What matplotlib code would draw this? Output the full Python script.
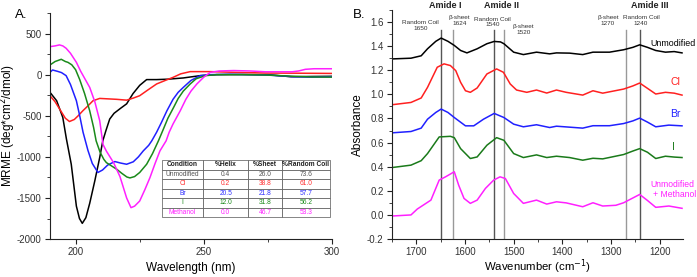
import matplotlib
matplotlib.use('Agg')
import matplotlib.pyplot as plt
from matplotlib.ticker import MultipleLocator

plt.rcParams['font.family'] = ['Liberation Sans', 'DejaVu Sans']
plt.rcParams['axes.unicode_minus'] = False

# ---------------- Panel A: CD spectra ----------------
wl_unmod = [190, 192.6, 195, 196.4, 198.3, 200.3, 201.5, 202.6, 204, 205.5, 207.5, 209.4, 210.6, 211.8,
            213.3, 215, 217.5, 219.9, 222.4, 225, 227.7, 231.6, 236, 242, 248.6, 255, 265, 275, 284, 292, 300]
mr_unmod = [-215, -317, -520, -780, -1090, -1600, -1750, -1809, -1740, -1565, -1290, -1008, -805, -683,
            -540, -470, -410, -355, -230, -130, -60, -60, -55, -40, -12, 0, 2, 0, -25, -22, -20]

wl_cl = [190, 192, 194, 196, 197.6, 199.5, 201, 202.8, 204.8, 206.8, 209.4, 213, 216, 219.9, 222.5, 225,
         228, 231.6, 235, 238, 241, 244.7, 252.5, 260, 274, 285, 300]
mr_cl = [-256, -330, -430, -530, -570, -545, -500, -440, -380, -317, -289, -295, -300, -310, -285, -256,
         -190, -113, -70, -33, 10, 37, 37, 30, 20, 18, 15]

wl_br = [190, 191, 193, 194.5, 196.3, 198, 200.3, 201.6, 202.9, 204.8, 206.5, 208.7, 210.5, 212.5, 215.3,
         217.5, 219.9, 222.5, 224.5, 226.4, 228.5, 229.7, 231.6, 233.5, 235.6, 238, 240, 242, 245, 248.6,
         252, 260, 275, 285, 292, 300]
mr_br = [28, 57, 40, 25, -12, -120, -317, -500, -700, -920, -1080, -1190, -1160, -1100, -1057,
         -1075, -1090, -1060, -1000, -927, -860, -805, -700, -580, -440, -300, -215, -155, -70, -12,
         0, 5, -5, -25, -30, -25]

wl_i = [190, 192, 194.4, 196, 197, 198.5, 200, 201.6, 203.5, 205.5, 207, 208, 209.5, 211, 212, 214, 216,
        218, 220, 221.2, 223, 225, 227.7, 230, 232.3, 234, 236, 238.2, 240, 242, 244.7, 247, 250.6, 255,
        265, 275, 285, 292, 300]
mr_i = [118, 160, 187, 160, 150, 120, 60, -60, -230, -440, -640, -805, -940, -1030, -1070, -1110, -1150,
        -1200, -1245, -1256, -1240, -1190, -1090, -960, -805, -680, -530, -400, -290, -200, -113, -50, -12, 0,
        0, -5, -20, -28, -30]

wl_meoh = [190, 192, 193.7, 195, 196.3, 198, 200.3, 202, 203.8, 205.5, 207.5, 209.4, 210.7, 212, 214.8,
           217.3, 219.9, 221.6, 223, 225, 227, 229, 231, 232.9, 235.3, 236.5, 238, 240.8, 243, 245, 247.3,
           250, 252.5, 256, 261.7, 268, 274, 280, 284.5, 287, 289.6, 293, 300]
mr_meoh = [341, 350, 362, 350, 321, 260, 150, 40, -60, -155, -330, -560, -850, -930, -1070,
           -1240, -1500, -1618, -1600, -1537, -1400, -1252, -1080, -927, -805, -700, -600, -440, -300, -200, -113,
           -30, 28, 45, 50, 45, 35, 35, 35, 45, 65, 72, 72]

table_cols = ['Condition', '%Helix', '%Sheet', '%Random Coil']
table_rows = [['Unmodified', '0.4', '26.0', '73.6'],
              ['Cl', '0.2', '38.8', '61.0'],
              ['Br', '20.5', '21.8', '57.7'],
              ['I', '12.0', '31.8', '56.2'],
              ['Methanol', '0.0', '46.7', '53.3']]
row_colors = ['#555555', '#ff3030', '#3030ff', '#1a8a1a', '#ff20ff']

# ---------------- Panel B: FTIR spectra ----------------
wn_unmod = [1750, 1711, 1690, 1677, 1660, 1649, 1635, 1622, 1609, 1596, 1575, 1555, 1540, 1527, 1520, 1500,
            1480, 1453, 1426, 1412, 1385, 1358, 1337, 1303, 1274, 1255, 1241, 1225, 1208, 1188, 1170, 1154]
ab_unmod = [1.294, 1.30, 1.32, 1.378, 1.44, 1.467, 1.44, 1.406, 1.364, 1.344, 1.378, 1.42, 1.439, 1.435, 1.42,
            1.35, 1.33, 1.35, 1.336, 1.344, 1.342, 1.33, 1.35, 1.35, 1.37, 1.39, 1.411, 1.39, 1.364, 1.35, 1.355,
            1.344]

wn_cl = [1750, 1711, 1690, 1677, 1657, 1643, 1630, 1619, 1609, 1599, 1589, 1575, 1555, 1535, 1521, 1507, 1494,
         1473, 1453, 1432, 1412, 1392, 1358, 1337, 1317, 1274, 1255, 1241, 1225, 1208, 1188, 1170, 1154]
ab_cl = [0.914, 0.933, 0.97, 1.058, 1.225, 1.253, 1.239, 1.197, 1.1, 1.03, 1.017, 1.053, 1.169, 1.211, 1.183,
         1.086, 1.036, 1.017, 1.036, 1.011, 1.036, 1.017, 0.994, 1.03, 1.01, 1.044, 1.07, 1.094, 1.05, 1.003,
         1.017, 1.01, 0.994]

wn_br = [1750, 1711, 1690, 1677, 1660, 1649, 1635, 1622, 1599, 1582, 1562, 1540, 1520, 1500, 1480, 1453, 1426,
         1412, 1358, 1337, 1303, 1274, 1255, 1241, 1225, 1208, 1181, 1154]
ab_br = [0.681, 0.692, 0.72, 0.794, 0.85, 0.878, 0.85, 0.808, 0.739, 0.739, 0.794, 0.842, 0.808, 0.753, 0.731,
         0.748, 0.725, 0.736, 0.72, 0.74, 0.74, 0.758, 0.78, 0.803, 0.77, 0.731, 0.745, 0.739]

wn_i = [1750, 1711, 1690, 1677, 1653, 1630, 1622, 1609, 1589, 1575, 1555, 1535, 1520, 1500, 1480, 1453, 1432,
        1412, 1385, 1358, 1337, 1317, 1274, 1255, 1241, 1225, 1208, 1188, 1170, 1154]
ab_i = [0.393, 0.413, 0.45, 0.509, 0.647, 0.652, 0.641, 0.55, 0.468, 0.481, 0.578, 0.641, 0.619, 0.509, 0.476,
        0.498, 0.476, 0.487, 0.476, 0.454, 0.47, 0.465, 0.501, 0.53, 0.55, 0.52, 0.468, 0.487, 0.48, 0.476]

wn_meoh = [1750, 1711, 1698, 1670, 1653, 1640, 1622, 1613, 1602, 1589, 1575, 1558, 1541, 1528, 1517, 1500,
           1480, 1453, 1432, 1412, 1392, 1358, 1337, 1317, 1290, 1274, 1241, 1225, 1208, 1181, 1154]
ab_meoh = [-0.009, 0.0, 0.049, 0.123, 0.289, 0.316, 0.358, 0.247, 0.137, 0.096, 0.123, 0.22, 0.289, 0.316,
           0.302, 0.178, 0.096, 0.123, 0.09, 0.109, 0.10, 0.068, 0.101, 0.074, 0.08, 0.101, 0.17, 0.12, 0.063,
           0.074, 0.055]

band_pos = [1650, 1624, 1540, 1520, 1270, 1240]
band_names = ['Random Coil\n1650', '\u03b2-sheet\n1624', 'Random Coil\n1540', '\u03b2-sheet\n1520',
              '\u03b2-sheet\n1270', 'Random Coil\n1240']

fig = plt.figure(figsize=(6.97, 2.77), dpi=100)
axA = fig.add_axes([0.0717, 0.137, 0.4046, 0.816])
axB = fig.add_axes([0.5624, 0.137, 0.4175, 0.827])

tick_col = '#333333'
for ax in (axA, axB):
    for s in ('top', 'right'):
        ax.spines[s].set_visible(False)
    for s in ('left', 'bottom'):
        ax.spines[s].set_color('#222222')
        ax.spines[s].set_linewidth(0.8)
    ax.tick_params(which='major', direction='out', length=3.5, width=0.8, labelsize=7,
                   colors='#222222', labelcolor=tick_col, pad=2.5)
    ax.tick_params(which='minor', direction='out', length=2, width=0.6, colors='#222222')

# Panel A
axA.plot(wl_unmod, mr_unmod, color='black', lw=1.1)
axA.plot(wl_cl, mr_cl, color='#ff2020', lw=1.1)
axA.plot(wl_br, mr_br, color='#2020ff', lw=1.1)
axA.plot(wl_i, mr_i, color='#1a8a1a', lw=1.1)
axA.plot(wl_meoh, mr_meoh, color='#ff20ff', lw=1.1)
axA.set_xlim(190, 300)
axA.set_ylim(-2000, 750)
axA.xaxis.set_major_locator(MultipleLocator(50))
axA.xaxis.set_minor_locator(MultipleLocator(25))
axA.yaxis.set_major_locator(MultipleLocator(500))
axA.yaxis.set_minor_locator(MultipleLocator(250))
axA.set_xlabel('Wavelength (nm)', fontsize=8.5)
axA.xaxis.set_label_coords(0.5, -0.1)
axA.set_ylabel('MRME (deg*cm$^2$/dmol)', fontsize=8.5)
axA.yaxis.set_label_coords(-0.112, 0.5)
fig.text(0.021, 0.935, 'A.', fontsize=9.5)

tbl = axA.table(cellText=table_rows, colLabels=table_cols, cellLoc='center',
                colWidths=[0.247, 0.267, 0.198, 0.287], bbox=[0.396, 0.096, 0.597, 0.254])
tbl.auto_set_font_size(False)
tbl.set_fontsize(4.8)
for (r, c), cell in tbl.get_celld().items():
    cell.set_edgecolor('#555555')
    cell.set_linewidth(0.5)
    cell.set_facecolor('white')
    if r == 0:
        cell.get_text().set_fontweight('bold')
        cell.get_text().set_color('#222222')
    else:
        cell.get_text().set_color(row_colors[r - 1])

# Panel B
for p in band_pos:
    col = '#555555' if p in (1650, 1540, 1240) else '#999999'
    axB.plot([p, p], [-0.2, 1.53], color=col, lw=1.0, zorder=1)
axB.plot(wn_unmod, ab_unmod, color='black', lw=1.1, zorder=2)
axB.plot(wn_cl, ab_cl, color='#ff2020', lw=1.1, zorder=2)
axB.plot(wn_br, ab_br, color='#2020ff', lw=1.1, zorder=2)
axB.plot(wn_i, ab_i, color='#1a7a1a', lw=1.1, zorder=2)
axB.plot(wn_meoh, ab_meoh, color='#ff20ff', lw=1.1, zorder=2)
axB.set_xlim(1750, 1152)
axB.set_ylim(-0.2, 1.7)
axB.xaxis.set_major_locator(MultipleLocator(100))
axB.xaxis.set_minor_locator(MultipleLocator(50))
axB.yaxis.set_major_locator(MultipleLocator(0.2))
axB.yaxis.set_minor_locator(MultipleLocator(0.1))
axB.yaxis.set_major_formatter(plt.FormatStrFormatter('%.1f'))
axB.set_xlabel('Wavenumber (cm$^{-1}$)', fontsize=8.2)
axB.xaxis.set_label_coords(0.5, -0.078)
axB.set_ylabel('Absorbance', fontsize=8.5)
axB.yaxis.set_label_coords(-0.098, 0.5)
fig.text(0.506, 0.935, 'B.', fontsize=9.5)

label_x = [1691, 1611, 1544, 1480, 1306, 1238]
label_y = [1.57, 1.61, 1.60, 1.54, 1.61, 1.61]
for x, y, t in zip(label_x, label_y, band_names):
    axB.text(x, y, t, fontsize=4.6, ha='center', va='center', color='#333333', linespacing=1.2)
for x, t in zip([1640, 1524, 1221], ['Amide I', 'Amide II', 'Amide III']):
    axB.text(x, 1.74, t, fontsize=6.5, fontweight='bold', ha='center', va='center',
             color='#222222', clip_on=False)

axB.text(1218, 1.425, 'Unmodified', fontsize=6.4, color='black', ha='left', va='center', clip_on=False)
axB.text(1178, 1.10, 'Cl', fontsize=7.5, color='#ff2020', ha='left', va='center')
axB.text(1178, 0.837, 'Br', fontsize=7.5, color='#2020ff', ha='left', va='center')
axB.text(1175, 0.567, 'I', fontsize=7.5, color='#1a7a1a', ha='left', va='center')
axB.text(1218, 0.255, 'Unmodified', fontsize=6.2, color='#ff20ff', ha='left', va='center', clip_on=False)
axB.text(1214, 0.168, '+ Methanol', fontsize=6.2, color='#ff20ff', ha='left', va='center', clip_on=False)

fig.savefig('out.png', dpi=100)
